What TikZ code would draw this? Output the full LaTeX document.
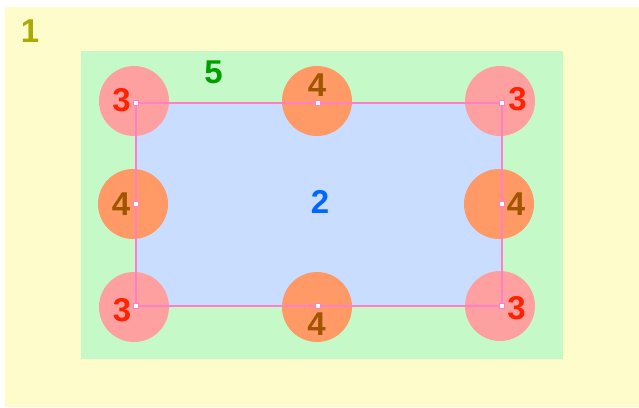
\documentclass[tikz,border=0pt]{standalone}
\usepackage{fontspec}
\setmainfont{Liberation Sans}
\definecolor{bgyellow}{RGB}{255,252,204}
\definecolor{bggreen}{RGB}{198,249,200}
\definecolor{bgblue}{RGB}{200,221,255}
\definecolor{cpink}{RGB}{255,160,160}
\definecolor{corange}{RGB}{255,154,102}
\definecolor{lpink}{RGB}{255,128,200}
\definecolor{tolive}{RGB}{170,170,0}
\definecolor{tgreen}{RGB}{0,160,0}
\definecolor{tblue}{RGB}{0,102,255}
\definecolor{tred}{RGB}{255,34,0}
\definecolor{tbrown}{RGB}{160,85,0}
\begin{document}
\begin{tikzpicture}[x=1pt,y=-1pt,
  cornercirc/.style={circle,fill=cpink,minimum size=70pt,inner sep=0pt},
  edgecirc/.style={circle,fill=corange,minimum size=70pt,inner sep=0pt},
  vmark/.style={rectangle,draw=lpink,fill=white,line width=1.2pt,minimum size=5pt,inner sep=0pt},
  lbl/.style={font=\fontsize{33}{33}\selectfont\bfseries,inner sep=0pt},
  edgeline/.style={draw=lpink,line width=1.6pt}]
\useasboundingbox (0,0) rectangle (639,407);
\fill[white] (0,0) rectangle (639,407);
\fill[bgyellow] (5,7) rectangle (639,407);
\fill[bggreen] (81,51) rectangle (563,359);
\fill[bgblue] (136,103) rectangle (502,306);
% circles
\node[cornercirc] (cTL) at (134,101) {};
\node[edgecirc]   (cT)  at (317,101) {};
\node[cornercirc] (cTR) at (500,101) {};
\node[edgecirc]   (cL)  at (133,204) {};
\node[edgecirc]   (cR)  at (499,204) {};
\node[cornercirc] (cBL) at (134,307) {};
\node[edgecirc]   (cB)  at (317,307) {};
\node[cornercirc] (cBR) at (500,306) {};
% vertices
\coordinate (vTL) at (136,103);
\coordinate (vT)  at (318,103);
\coordinate (vTR) at (502,103);
\coordinate (vL)  at (136,204);
\coordinate (vR)  at (502,204);
\coordinate (vBL) at (136,306);
\coordinate (vB)  at (318,306);
\coordinate (vBR) at (502,306);
\path[edgeline] (vTL) -- (vT) -- (vTR) -- (vR) -- (vBR) -- (vB) -- (vBL) -- (vL) -- cycle;
\foreach \v in {vTL,vT,vTR,vL,vR,vBL,vB,vBR} \node[vmark] (m\v) at (\v) {};
% labels
\node[lbl,text=tolive] (l1) at (30,31) {1};
\node[lbl,text=tgreen] (l5) at (213.5,72) {5};
\node[lbl,text=tblue] (l2) at (320,202) {2};
\node[lbl,text=tred] (l3a) at (121.5,100) {3};
\node[lbl,text=tred] (l3b) at (517.5,99.5) {3};
\node[lbl,text=tred] (l3c) at (122,310) {3};
\node[lbl,text=tred] (l3d) at (516.5,308.5) {3};
\node[lbl,text=tbrown] (l4a) at (317,85) {4};
\node[lbl,text=tbrown] (l4b) at (316.5,324.5) {4};
\node[lbl,text=tbrown] (l4c) at (121,204) {4};
\node[lbl,text=tbrown] (l4d) at (516,204) {4};
\end{tikzpicture}
\end{document}
